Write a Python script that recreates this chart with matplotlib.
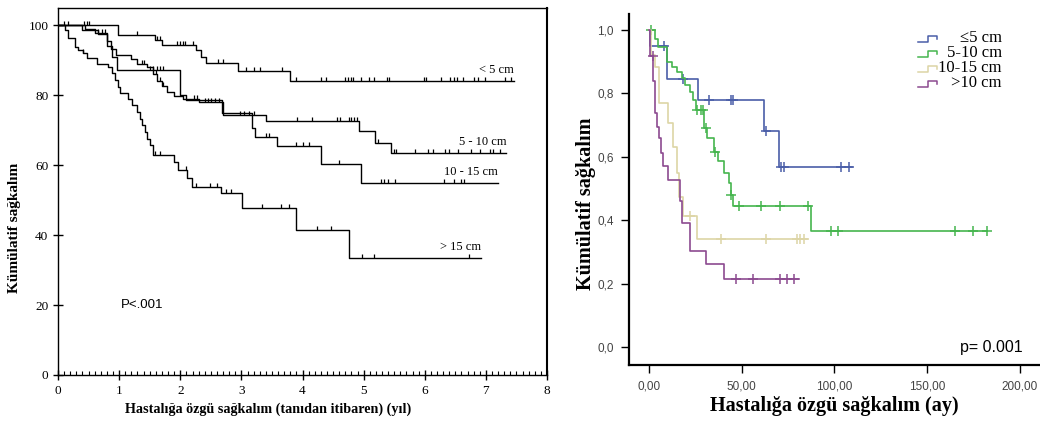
import numpy as np
import matplotlib
matplotlib.use("Agg")
import matplotlib.pyplot as plt
from matplotlib.ticker import MultipleLocator, FixedLocator

SERIF = "Liberation Serif"
SANS = "Liberation Sans"

# Left panel: disease-specific survival (%) by tumour size, time in years
lt5_t = [0, 0.98, 1.58, 1.70, 2.26, 2.34, 2.42, 2.95, 3.80, 7.46]
lt5_s = [100, 97.1, 95.9, 94.4, 92.9, 91.0, 89.2, 86.9, 84.0, 84.0]
lt5_cens = [0.09, 0.16, 0.42, 0.47, 0.51, 1.29, 1.62, 1.66, 1.95, 2.00, 2.04, 2.08,
            2.20, 2.62, 2.70, 3.07, 3.20, 3.31, 3.67, 3.89, 4.31, 4.38, 4.70, 4.74,
            4.79, 4.83, 4.95, 5.09, 5.17, 5.38, 5.42, 5.99, 6.02, 6.26, 6.41, 6.48,
            6.53, 6.62, 6.80, 6.87, 6.98, 7.31, 7.41]

s510_t = [0, 0.44, 0.61, 0.80, 0.86, 0.95, 1.20, 1.30, 1.45, 1.55, 1.62, 1.70, 1.78,
          1.90, 2.05, 2.30, 2.70, 3.40, 4.93, 5.18, 5.44, 7.33]
s510_s = [100, 98.8, 97.8, 95.5, 93.3, 91.5, 90.3, 89.0, 88.0, 86.0, 84.0, 82.5, 81.0,
          79.8, 79.0, 78.0, 74.3, 72.6, 69.7, 66.4, 63.4, 63.4]
s510_cens = [0.65, 0.72, 0.77, 1.37, 1.41, 1.60, 1.66, 1.72, 2.22, 2.28, 2.40, 2.45,
             2.50, 2.56, 2.64, 2.97, 3.05, 3.13, 3.21, 3.91, 4.16, 4.57, 4.62, 4.76,
             4.79, 4.84, 4.89, 5.24, 5.50, 5.53, 5.84, 6.06, 6.14, 6.33, 6.39, 6.55,
             6.75, 6.90, 7.07, 7.12, 7.23]

s1015_t = [0, 0.40, 0.65, 0.80, 0.88, 0.96, 1.99, 2.10, 2.68, 3.18, 3.22, 3.58, 4.30,
           4.96, 7.20]
s1015_s = [100, 98.6, 97.5, 94.0, 91.0, 87.1, 80.0, 78.5, 74.8, 70.5, 68.1, 65.4, 60.2,
           54.8, 54.8]
s1015_cens = [1.51, 1.56, 1.62, 1.67, 1.72, 3.40, 3.45, 3.90, 4.00, 4.10, 4.60, 5.28,
              5.33, 5.39, 5.52, 6.32, 6.48, 6.59, 6.64]

gt15_t = [0, 0.11, 0.16, 0.28, 0.33, 0.41, 0.47, 0.63, 0.82, 0.88, 0.93, 0.98, 1.02,
          1.15, 1.21, 1.29, 1.34, 1.38, 1.42, 1.46, 1.50, 1.55, 1.89, 1.97, 2.11, 2.19,
          2.66, 3.01, 3.89, 4.76, 6.92]
gt15_s = [100, 98.6, 96.3, 93.8, 92.9, 91.9, 90.5, 89.0, 88.1, 86.2, 84.3, 82.4, 80.5,
          79.0, 77.1, 75.2, 73.3, 71.4, 69.5, 67.6, 65.7, 62.9, 60.9, 58.6, 56.2, 53.8,
          51.9, 47.6, 41.4, 33.3, 33.3]
gt15_cens = [0.41, 1.59, 1.67, 2.10, 2.25, 2.49, 2.60, 2.75, 2.83, 3.34, 3.64, 3.78,
             4.24, 4.46, 4.98, 5.17, 6.73]

left_labels = ["< 5 cm", "5 - 10 cm", "10 - 15 cm", "> 15 cm"]

# Right panel: survival proportion by tumour size, time in months
blue_t = [0, 0.5, 9.6, 26.3, 62.2, 70.4, 109.6]
blue_s = [1.0, 0.95, 0.845, 0.78, 0.68, 0.567, 0.567]
blue_cens = [8.1, 18.5, 32.6, 44.2, 45.3, 63.1, 71.2, 72.6, 103.6, 107.7]

green_t = [0, 3.2, 5.0, 9.9, 12.3, 15.0, 17.7, 19.5, 22.2, 24.0, 25.2, 29.7, 31.5,
           35.1, 37.5, 40.5, 43.2, 44.2, 45.5, 87.4, 182.5]
green_s = [1.0, 0.97, 0.947, 0.90, 0.884, 0.868, 0.847, 0.826, 0.805, 0.779, 0.748,
           0.69, 0.658, 0.616, 0.585, 0.548, 0.516, 0.48, 0.443, 0.366, 0.366]
green_cens = [1.0, 26.0, 27.9, 29.3, 31.0, 35.5, 44.5, 48.3, 60.4, 70.8, 86.0, 98.4,
              102.0, 165.0, 174.6, 182.2]

tan_t = [0, 1.2, 3.0, 5.6, 10.5, 13.2, 15.0, 16.2, 18.5, 25.8, 85.2]
tan_s = [1.0, 0.92, 0.884, 0.769, 0.706, 0.632, 0.55, 0.474, 0.414, 0.34, 0.34]
tan_cens = [22.0, 38.7, 63.0, 79.7, 81.3, 83.8]

purple_t = [0, 0.5, 2.2, 3.0, 4.1, 5.4, 6.5, 7.7, 10.5, 16.5, 17.6, 22.2, 30.6, 40.5,
            80.7]
purple_s = [1.0, 0.917, 0.84, 0.737, 0.695, 0.66, 0.611, 0.569, 0.527, 0.46, 0.39,
            0.304, 0.261, 0.215, 0.215]
purple_cens = [2.0, 46.9, 56.0, 70.8, 74.4, 78.0]

right_labels = ["\u22645 cm", "5-10 cm", "10-15 cm", ">10 cm"]
right_colors = ["#4a5ea8", "#45b54e", "#ddd5a6", "#8c4a90"]


def surv_at(times, surv, when):
    idx = np.searchsorted(np.asarray(times), np.asarray(when), side="right") - 1
    return np.asarray(surv)[idx]


fig = plt.figure(figsize=(10.4, 4.22), dpi=100)

# ---------- left panel ----------
ax1 = fig.add_axes([0.0558, 0.1114, 0.4702, 0.8696])
tick_up = [(0, 0), (0, 1)]
left_series = [(lt5_t, lt5_s, lt5_cens), (s510_t, s510_s, s510_cens),
               (s1015_t, s1015_s, s1015_cens), (gt15_t, gt15_s, gt15_cens)]
for t, s, c in left_series:
    ax1.step(t, s, where="post", color="black", lw=1.0)
    ax1.plot(c, surv_at(t, s, c), ls="none", marker=tick_up, ms=6,
             mec="black", mew=0.9)

# labels sit just above the end of each curve
for (t, s, c), lab in zip(left_series, left_labels):
    ax1.text(t[-1], s[-1] + 3.3, lab, ha="right", va="center",
             family=SERIF, fontsize=9)

ax1.text(1.02, 20, "P<.001", family=SANS, fontsize=9.5, va="center")

ax1.set_xlim(0, 8)
ax1.set_ylim(0, 104.9)
ax1.xaxis.set_major_locator(MultipleLocator(1))
ax1.xaxis.set_minor_locator(MultipleLocator(0.1))
ax1.yaxis.set_major_locator(FixedLocator([0, 20, 40, 60, 80, 100]))
ax1.tick_params(axis="both", which="major", direction="inout", length=7,
                width=1, labelsize=9.5)
ax1.tick_params(axis="x", which="minor", direction="in", length=3, width=0.8)
ax1.tick_params(axis="x", pad=4)
for lab in ax1.get_xticklabels() + ax1.get_yticklabels():
    lab.set_family(SERIF)
for sp in ax1.spines.values():
    sp.set_linewidth(1.0)
ax1.spines["right"].set_linewidth(1.5)
ax1.set_xlabel("Hastalığa özgü sağkalım (tanıdan itibaren) (yıl)",
               family=SERIF, fontweight="bold", fontsize=10.2)
ax1.xaxis.set_label_coords(0.43, -0.075)
ax1.set_ylabel("Kümülatif sağkalım", family=SERIF, fontweight="bold",
               fontsize=11)
ax1.yaxis.set_label_coords(-0.075, 0.40)

# ---------- right panel ----------
ax2 = fig.add_axes([0.6048, 0.135, 0.3952, 0.832])
right_series = [(blue_t, blue_s, blue_cens), (green_t, green_s, green_cens),
                (tan_t, tan_s, tan_cens), (purple_t, purple_s, purple_cens)]
for (t, s, c), col in zip(right_series, right_colors):
    ax2.step(t, s, where="post", color=col, lw=1.2)
    ax2.plot(c, surv_at(t, s, c), ls="none", marker="+", ms=6.5, mec=col, mew=1.1)

ax2.set_xlim(-10.8, 211)
ax2.set_ylim(-0.057, 1.05)
ax2.set_xticks([0, 50, 100, 150, 200])
ax2.set_xticklabels(["0,00", "50,00", "100,00", "150,00", "200,00"])
ax2.set_yticks([0, 0.2, 0.4, 0.6, 0.8, 1.0])
ax2.set_yticklabels(["0,0", "0,2", "0,4", "0,6", "0,8", "1,0"])
ax2.tick_params(direction="out", length=6, width=1, labelsize=8.5,
                labelcolor="#444444", pad=5)
for lab in ax2.get_xticklabels() + ax2.get_yticklabels():
    lab.set_family(SANS)
ax2.spines["top"].set_visible(False)
ax2.spines["right"].set_visible(False)
ax2.spines["left"].set_linewidth(1.6)
ax2.spines["bottom"].set_linewidth(1.6)
ax2.set_xlabel("Hastalığa özgü sağkalım (ay)", family=SERIF,
               fontweight="bold", fontsize=14.5, labelpad=3)
ax2.set_ylabel("Kümülatif sağkalım", family=SERIF, fontweight="bold",
               fontsize=14.5)
ax2.yaxis.set_label_coords(-0.08, 0.46)
ax2.text(0.958, 0.05, "p= 0.001", transform=ax2.transAxes, ha="right",
         va="center", family=SANS, fontsize=11.5)

# legend: small step glyph plus right-aligned label
leg_y = [0.9316, 0.889, 0.846, 0.803]
for y, lab, col in zip(leg_y, right_labels, right_colors):
    hx = [0.703, 0.727, 0.727, 0.750, 0.750]
    hy = [y - 0.012, y - 0.012, y + 0.006, y + 0.006, y - 0.004]
    ax2.plot(hx, hy, color=col, lw=1.1, transform=ax2.transAxes, clip_on=False)
    ax2.text(0.9075, y, lab, transform=ax2.transAxes, ha="right", va="center",
             family=SERIF, fontsize=12)

fig.savefig("out.png", dpi=100)
